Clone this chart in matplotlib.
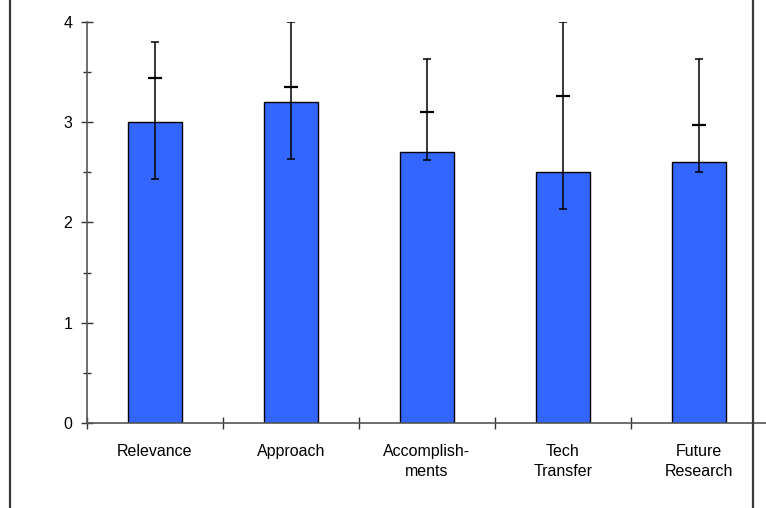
import matplotlib.pyplot as plt
from matplotlib.lines import Line2D
import numpy as np

plt.rcParams["font.family"] = ["Liberation Sans", "DejaVu Sans"]

# Data
categories = ["Relevance", "Approach", "Accomplish-\nments", "Tech\nTransfer", "Future\nResearch"]
means = [3.0, 3.2, 2.7, 2.5, 2.6]
lows = [2.43, 2.63, 2.62, 2.13, 2.5]
highs = [3.8, 4.0, 3.63, 4.0, 3.63]
marks = [3.44, 3.35, 3.10, 3.26, 2.97]
y_ticks = [0, 1, 2, 3, 4]

W, H = 766, 508
fig = plt.figure(figsize=(W / 100, H / 100), dpi=100)
ax = fig.add_axes([87 / W, (H - 423) / H, 680 / W, 401 / H])

x = np.arange(len(categories)) + 0.5
means_arr = np.array(means)
yerr = [means_arr - np.array(lows), np.array(highs) - means_arr]

ax.bar(x, means, width=0.4, color="#3366FF", edgecolor="black", linewidth=1.0, zorder=2)
ax.errorbar(x, means, yerr=yerr, fmt="none", ecolor="black", elinewidth=1.1,
            capsize=2.6, capthick=1.1, zorder=3)
ax.plot(x, marks, linestyle="none", marker="_", markersize=9.5,
        markeredgewidth=1.6, color="black", zorder=4)

ax.set_xlim(0, len(categories))
ax.set_ylim(0, 4)

# y axis: major ticks with labels, minor at half steps, both crossing
ax.set_yticks(y_ticks)
ax.set_yticks(np.arange(0.5, 4, 1.0), minor=True)
ax.tick_params(axis="y", which="major", direction="inout", length=8, width=1,
               labelsize=11.5, pad=6.5, color="#333333")
ax.tick_params(axis="y", which="minor", direction="inout", length=5.5, width=1,
               color="#333333")

# x axis: ticks at category boundaries, labels at centers
ax.set_xticks(np.arange(0, len(categories) + 1))
ax.set_xticklabels([])
ax.set_xticks(x, minor=True)
ax.set_xticklabels(categories, minor=True, linespacing=1.45)
ax.tick_params(axis="x", which="major", direction="inout", length=8.5, width=1,
               color="#333333")
ax.tick_params(axis="x", which="minor", length=0, labelsize=11.5, pad=15)

for side in ["top", "right"]:
    ax.spines[side].set_visible(False)
for side in ["left", "bottom"]:
    ax.spines[side].set_color("#555555")
    ax.spines[side].set_linewidth(1.2)

# outer frame edges (only the side edges are visible in the crop)
for xf in [9.5 / W, 752.5 / W]:
    fig.add_artist(Line2D([xf, xf], [0, 1], transform=fig.transFigure,
                          color="#3a3a3a", linewidth=1.6))

fig.savefig("out.png", dpi=100)
